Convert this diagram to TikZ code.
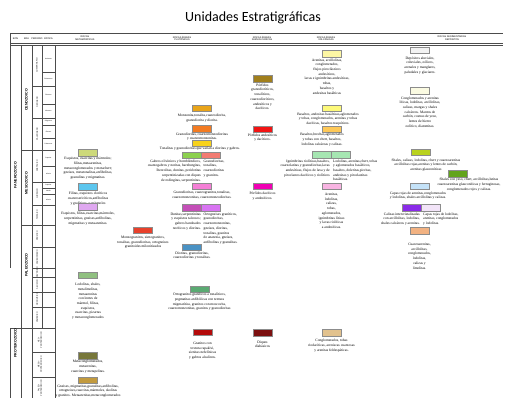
\documentclass[tikz,border=0pt]{standalone}
\usepackage{fontspec}
\setmainfont{Liberation Serif}
\newfontfamily\titlefont{Carlito}
\newfontfamily\hdrfont{Liberation Sans}
\tikzset{
 grid/.style={draw=black!70, line width=0.35pt},
 rock/.style={draw=black!45, line width=0.3pt, minimum width=19pt, minimum height=6.5pt, inner sep=0pt, outer sep=0pt},
 rtxt/.style={font=\fontsize{3.6}{4.7}\selectfont, align=center, inner sep=0pt, anchor=north},
 rtxtL/.style={rtxt, align=right, anchor=north east},
 rtxtR/.style={rtxt, align=left, anchor=north west},
 per/.style={font=\hdrfont\fontsize{2}{2.4}\selectfont, rotate=90, inner sep=0pt, align=center},
 era/.style={font=\hdrfont\bfseries\fontsize{3.6}{4}\selectfont, rotate=90, inner sep=0pt},
 epo/.style={font=\hdrfont\fontsize{1.6}{2}\selectfont, inner sep=0pt},
 hdr/.style={font=\hdrfont\fontsize{2.4}{2.9}\selectfont, align=center, inner sep=0pt},
}
\begin{document}
\begin{tikzpicture}[x=1pt,y=-1pt]
\useasboundingbox[fill=white] (0,0) rectangle (505,398);
% title
\node[font=\titlefont\fontsize{14}{16}\selectfont, inner sep=0pt] (title) at (253,18) {Unidades Estratigráficas};
% header
\draw[grid] (10,33) -- (503,33);
\draw[grid] (10,43.5) -- (503,43.5);
\draw[grid] (10,45.5) -- (503,45.5);
\node[hdr] (hEon) at (15.5,38.5) {EON};
\node[hdr] (hEra) at (26.5,38.5) {ERA};
\node[hdr] (hPer) at (37,38.5) {PERIODO};
\node[hdr] (hEpo) at (48.5,38.5) {ÉPOCA};
\node[hdr] (hMet) at (85,38.5) {ROCAS\\METAMÓRFICAS};
\node[hdr] (hPlu) at (182,38.5) {ROCAS ÍGNEAS\\PLUTÓNICAS};
\node[hdr] (hSub) at (262,38.5) {ROCAS ÍGNEAS\\SUBVOLCÁNICAS};
\node[hdr] (hVol) at (326,38.5) {ROCAS ÍGNEAS\\VOLCÁNICAS};
\node[hdr] (hSed) at (452,38.5) {ROCAS SEDIMENTARIAS\\DEPÓSITOS};
% time table
\draw[grid] (10,33) -- (10,268);
\draw[grid] (10,328) -- (10,398);
\draw[grid] (21,45.5) -- (21,398);
\draw[grid] (32,45.5) -- (32,398);
\draw[grid] (42,45.5) -- (42,328);
\draw[grid] (55,45.5) -- (55,398);
\draw[grid, line width=0.6pt] (10,328) -- (55,328);
\foreach \yy in {150,225} \draw[grid] (21,\yy) -- (55,\yy);
\foreach \yy in {86,118,182,205,247,268,277,292,307,352,377} \draw[grid] (32,\yy) -- (55,\yy);
\foreach \yy in {72,104,125,138,166,188,194} \draw[grid] (42,\yy) -- (55,\yy);
\node[era] (eFan) at (15.5,175) {FANEROZOICO};
\node[era] (eProt) at (15.5,343) {PROTEROZOICO};
\node[era] (eCen) at (26.5,100) {CENOZOICO};
\node[era] (eMes) at (26.5,183) {MESOZOICO};
\node[era] (ePal) at (26.5,265) {PALEOZOICO};
\node[per] (pCua) at (37,65.5) {CUATERNARIO};
\node[per] (pNeo) at (37,102) {NEÓGENO};
\node[per] (pPag) at (37,134) {PALEÓGENO};
\node[per] (pCre) at (37,166) {CRETÁCICO};
\node[per] (pJur) at (37,193.5) {JURÁSICO};
\node[per] (pTri) at (37,215) {TRIÁSICO};
\node[per] (pPer) at (37,236) {PÉRMICO};
\node[per] (pCar) at (37,257.5) {CARBONÍFERO};
\node[per] (pDev) at (37,272.5) {DEVÓNICO};
\node[per] (pSil) at (37,284.5) {SILÚRICO};
\node[per] (pOrd) at (37,299.5) {ORDOVÍCICO};
\node[per] (pCam) at (37,317.5) {CÁMBRICO};
\node[per] (pNP) at (40,340) {NEO-\\PROTEROZOICO};
\node[per] (pMP) at (40,364.5) {MESO-\\PROTEROZOICO};
\node[per] (pPP) at (40,388) {PALEO-\\PROTEROZOICO};
\node[epo] (ep1) at (48.5,58.5) {Holoceno};
\node[epo] (ep2) at (48.5,79) {Pleistoceno};
\node[epo] (ep3) at (48.5,95) {Plioceno};
\node[epo] (ep4) at (48.5,111) {Mioceno};
\node[epo] (ep5) at (48.5,121.5) {Oligoceno};
\node[epo] (ep6) at (48.5,131.5) {Eoceno};
\node[epo] (ep7) at (48.5,144) {Paleoceno};
\node[epo] (ep8) at (48.5,158) {Superior};
\node[epo] (ep9) at (48.5,174) {Inferior};
\node[epo] (ep10) at (48.5,185) {Superior};
\node[epo] (ep11) at (48.5,191) {Medio};
\node[epo] (ep12) at (48.5,199.5) {Inferior};
% ---------- metamorphic
\node[rock, fill={rgb,255:red,205;green,217;blue,122}] (m1) at (88,152.5) {};
\node[rtxt] (m1t) at (88,157) {Esquistos, cuarcitas y mármoles;\\filitas,metaarenitas,\\metaconglomerados y metachert;\\gneises, metatonalitas,anfibolitas,\\granulitas y migmatitas.};
\node[rock, fill={rgb,255:red,92;green,198;blue,238}] (m2) at (88,186.5) {};
\node[rtxt] (m2t) at (88,192) {Filitas, esquistos cloríticos\\cuarzosericíticos,anfibolitas\\y grafíticos, y mármoles};
\node[rock, fill={rgb,255:red,223;green,168;blue,240}] (m3) at (88,206.5) {};
\node[rtxt] (m3t) at (88,212) {Esquistos, filitas,cuarcitas,mármoles,\\serpentinitas, gneises,anfibolitas,\\migmatitas y metaarenitas.};
\node[rock, fill={rgb,255:red,232;green,65;blue,44}] (m4) at (143,230) {};
\node[rtxt] (m4t) at (143,236) {Monzogranitos, sienogranitos,\\tonalitas, granodioritas, ortogneises\\granitoides milonitizados};
\node[rock, fill={rgb,255:red,144;green,192;blue,128}] (m5) at (88,275) {};
\node[rtxt] (m5t) at (88,283) {Lodolitas, shales,\\metalimolitas,\\metaarenitas\\con lentes de\\mármol, filitas,\\esquistos,\\cuarcitas, pizarras\\y metaconglomerados};
\node[rock, fill={rgb,255:red,119;green,119;blue,58}] (m6) at (88,355.5) {};
\node[rtxt] (m6t) at (88,360) {Metaconglomerados,\\metarenitas,\\cuarcitas y metapelitas.};
\node[rock, fill={rgb,255:red,194;green,154;blue,62}] (m7) at (88,380) {};
\node[rtxt] (m7t) at (88,384.5) {Gneises, migmatitas,granulitas,anfibolitas,\\ortogneises,cuarcitas,mármoles, skolitas\\y granitos. Metaarenitas,metaconglomerados};
% ---------- plutonic
\node[rock, fill={rgb,255:red,233;green,164;blue,26}] (p1) at (202,108) {};
\node[rtxt] (p1t) at (202,114) {Monzonita,tonalita,cuarzodiorita,\\granodiorita y diorita.};
\node[rock, fill={rgb,255:red,242;green,123;blue,34}] (p2) at (202,128.5) {};
\node[rtxt] (p2t) at (202,132.5) {Granodioritas, cuarzomonzodioritas\\y cuarzomonzonitas.};
\node[rock, fill={rgb,255:red,247;green,210;blue,28}] (p3) at (202,143) {};
\node[rtxt] (p3t) at (200,147) {Tonalitas y granodioritas que varían a dioritas y gabros.};
\node[rock, fill={rgb,255:red,140;green,208;blue,78}] (p4a) at (191.5,155) {};
\node[rock, fill={rgb,255:red,242;green,124;blue,114}] (p4b) at (210.5,155) {};
\node[rtxtL] (p4at) at (201,159.5) {Gabros olivínicos y hornbléndicos,\\cuarzogabros y noritas, harzburgitas,\\lherzolitas, dunitas, peridotitas\\serpentinizadas con diques\\de rodingitas, serpentinitas.};
\node[rtxtR] (p4bt) at (203.5,159.5) {Granodioritas,\\tonalitas,\\cuarzodioritas\\y granitos.};
\node[rock, fill={rgb,255:red,244;green,127;blue,214}] (p5) at (202,186) {};
\node[rtxt] (p5t) at (202,191) {Granodioritas, cuarzogranitos,tonalitas,\\cuarzomonzonitas, cuarzomonzodioritas.};
\node[rock, fill={rgb,255:red,196;green,79;blue,184}] (p6a) at (191.5,207.5) {};
\node[rock, fill={rgb,255:red,216;green,116;blue,242}] (p6b) at (210.5,207.5) {};
\node[rtxtL] (p6at) at (201,212.5) {Dunitas,serpentinitas\\y esquistos talcosos;\\gabros bandeados\\noríticos y dioritas.};
\node[rtxtR] (p6bt) at (203.5,212.5) {Ortogneises graníticos,\\granodioritas,\\cuarzomonzonitas,\\gneises, dioritas,\\tonalitas, granitos\\de anatexia, gneises,\\anfibolitas y granulitas.};
\node[rock, fill={rgb,255:red,74;green,146;blue,196}] (p7) at (192,247) {};
\node[rtxt] (p7t) at (192,251.5) {Dioritas, granodioritas,\\cuarzodioritas y tonalitas.};
\node[rock, fill={rgb,255:red,90;green,170;blue,114}] (p8) at (199.5,289) {};
\node[rtxt] (p8t) at (199.5,293) {Ortogranitos graníticos a tonalíticos,\\pegmatitas anfibólicas con textura\\migmatítica, granitos con moscovita,\\cuarzomonzonitas, granitos y granodioritas};
\node[rock, fill={rgb,255:red,180;green,10;blue,10}] (p9) at (202.5,332) {};
\node[rtxt] (p9t) at (202.5,342) {Granitos con\\textura rapakivi,\\sienitas nefelínicas\\y gabros alcalinos.};
% ---------- subvolcanic
\node[rock, fill={rgb,255:red,161;green,127;blue,28}] (s1) at (262.5,78.5) {};
\node[rtxt] (s1t) at (262.5,83.5) {Pórfidos\\granodioríticos,\\tonalíticos,\\cuarzodioríticos,\\andesíticos y\\dacíticos.};
\node[rock, fill={rgb,255:red,242;green,20;blue,20}] (s2) at (262.5,129) {};
\node[rtxt] (s2t) at (262.5,133.5) {Pórfidos andesíticos\\y dacíticos.};
\node[rock, fill={rgb,255:red,240;green,0;blue,180}] (s3) at (262.5,186) {};
\node[rtxt] (s3t) at (262.5,192) {Pórfidos dacíticos\\y andesíticos.};
\node[rock, fill={rgb,255:red,124;green,16;blue,16}] (s4) at (262.5,332.5) {};
\node[rtxt] (s4t) at (262.5,340.5) {Diques\\diabásicos};
% ---------- volcanic
\node[rock, fill={rgb,255:red,253;green,247;blue,164}] (v1) at (331.5,53.5) {};
\node[rtxt] (v1t) at (327,58.5) {Arenitas, arcillolitas,\\conglomerados,\\flujos piroclásticos\\andesíticos,\\lavas e ignimbritas andesíticas,\\tobas,\\basaltos y\\andesitas basálticas};
\node[rock, fill={rgb,255:red,253;green,249;blue,122}] (v2) at (331.5,108) {};
\node[rtxt] (v2t) at (328,112.5) {Basaltos, andesitas basálticas,aglomerados\\y tobas, conglomerados, arenitas y tobas\\dacíticas, basaltos traquíticos.};
\node[rock, fill={rgb,255:red,254;green,200;blue,87}] (v3) at (331.5,129) {};
\node[rtxt] (v3t) at (322,133) {Basaltos,brechas,aglomerados\\y tobas con chert, basaltos,\\lodolitas calcáreas y calizas.};
\node[rock, fill={rgb,255:red,166;green,230;blue,178}] (v4a) at (321.5,154.5) {};
\node[rock, fill={rgb,255:red,166;green,230;blue,178}] (v4b) at (340.5,154.5) {};
\node[rtxtL] (v4at) at (330,159.5) {Ignimbritas riolíticas,basaltos,\\cuarzolatitas y granodioritas,lavas\\andesíticas, flujos de lava y de\\piroclastos dacíticos y riolíticos};
\node[rtxtR] (v4bt) at (333,159.5) {Lodolitas, arenitas,chert, tobas\\y aglomerados basálticos,\\basaltos, doleritas,picritas,\\andesitas y piroclastitas\\basálticas.};
\node[rock, fill={rgb,255:red,248;green,180;blue,226}] (v5) at (331.5,186) {};
\node[rtxt] (v5t) at (331.5,193) {Arenitas,\\lodolitas,\\calizas,\\tobas,\\aglomerados,\\ignimbritas líticas\\y lavas riolíticas\\a andesíticas.};
\node[rock, fill={rgb,255:red,226;green,194;blue,142}] (v6) at (331.5,332.5) {};
\node[rtxt] (v6t) at (331.5,339) {Conglomerados, tobas\\riodacíticas, areniscas cuarzosas\\y arenitas feldespáticas.};
% ---------- sedimentary
\node[rock, fill={rgb,255:red,242;green,242;blue,242}] (d1) at (420,50) {};
\node[rtxt] (d1t) at (420,56.5) {Depósitos aluviales,\\coluviales, eólicos,\\arenales y manglares,\\paludales y glaciares.};
\node[rock, fill={rgb,255:red,251;green,251;blue,226}] (d2) at (420,90.5) {};
\node[rtxt] (d2t) at (420,96.5) {Conglomerados y arenitas\\líticas, lodolitas, arcillolitas,\\calizas, margas y shales\\calcáreos. Mantos de\\carbón, costras de yeso,\\lentes de hierro\\oolítico, diatomitas.};
\node[rock, fill={rgb,255:red,185;green,210;blue,30}] (d3) at (421,152) {};
\node[rtxt] (d3t) at (426,158.5) {Shales, calizas, lodolitas, chert y cuarzoarenitas\\arcillolitas rojas,arenitas y lentes de carbón,\\arenitas glauconíticas};
\node[rock, fill={rgb,255:red,98;green,164;blue,28}] (d4) at (458,173.5) {};
\node[rtxt] (d4t) at (469,178) {Shales con yeso, chert, arcillolitas,lutitas\\cuarzoarenitas glauconíticas y ferruginosas,\\conglomerados rojos y calizas.};
\node[rock, fill={rgb,255:red,196;green,226;blue,248}] (d5) at (419.5,186) {};
\node[rtxt] (d5t) at (418,191.5) {Capas rojas de arenitas,conglomerados\\y lodolitas, shales arcillolitas y calizas.};
\node[rock, fill={rgb,255:red,138;green,43;blue,232}] (d6a) at (411.5,207.5) {};
\node[rock, fill={rgb,255:red,242;green,228;blue,248}] (d6b) at (430.5,207.5) {};
\node[rtxtL] (d6at) at (420,212.5) {Calizas intercristalizadas\\con arcillolitas, lodolitas,\\shales calcáreos y arenitas.};
\node[rtxtR] (d6bt) at (423,212.5) {Capas rojas de lodolitas,\\arenitas, conglomerados\\y lodolitas.};
\node[rock, fill={rgb,255:red,242;green,178;blue,130}] (d7) at (419.5,230.5) {};
\node[rtxt] (d7t) at (419.5,243) {Cuarzoarenitas,\\arcillolitas,\\conglomerados,\\lodolitas,\\calizas y\\limolitas.};
\end{tikzpicture}
\end{document}
